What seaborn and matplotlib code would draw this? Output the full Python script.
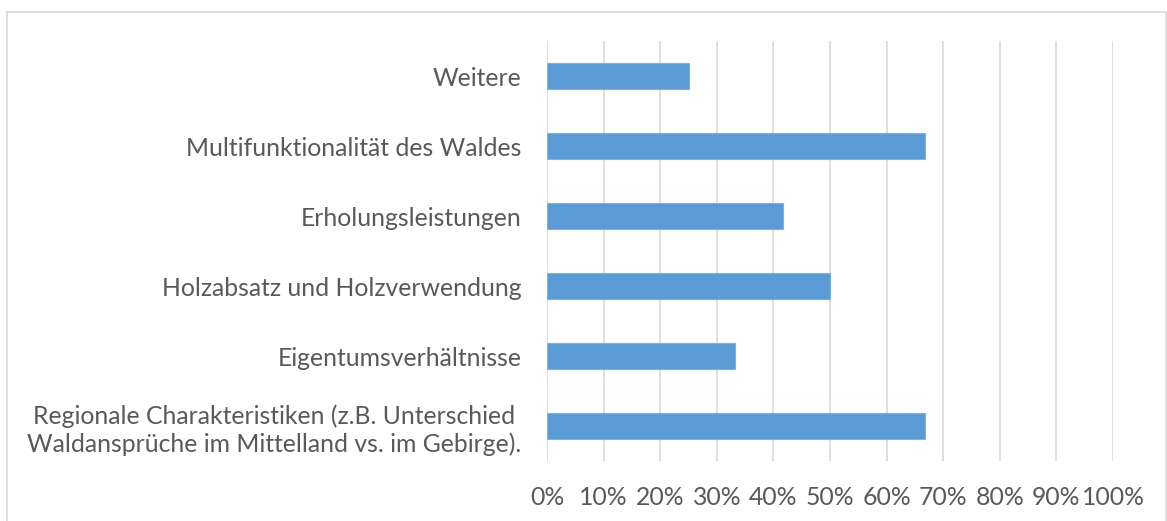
import matplotlib
matplotlib.use("Agg")
import matplotlib.pyplot as plt
import seaborn as sns
import pandas as pd
from matplotlib.patches import Rectangle
from matplotlib.ticker import FuncFormatter

categories = [
    "Weitere",
    "Multifunktionalität des Waldes",
    "Erholungsleistungen",
    "Holzabsatz und Holzverwendung",
    "Eigentumsverhältnisse",
    "Regionale Charakteristiken (z.B. Unterschied\nWaldansprüche im Mittelland vs. im Gebirge).",
]
values = [25.0, 66.7, 41.7, 50.0, 33.3, 66.7]
xticks = [0, 10, 20, 30, 40, 50, 60, 70, 80, 90, 100]

df = pd.DataFrame({"cat": categories, "val": values})

sns.set_theme(style="white")
plt.rcParams["font.family"] = ["Lato", "DejaVu Sans"]

fig = plt.figure(figsize=(11.67, 5.21), dpi=100)
W, H = 1167, 521
ax = fig.add_axes([547 / W, 1 - 461 / H, (1113 - 547) / W, (461 - 41) / H])

sns.barplot(data=df, x="val", y="cat", orient="h", color="#5B9BD5",
            saturation=1, width=0.36, ax=ax, edgecolor="#7FB1E0", linewidth=0.8,
            zorder=3)

ax.set_xlim(0, 100)
ax.set_xticks(xticks)
ax.xaxis.set_major_formatter(FuncFormatter(lambda v, p: f"{int(v)}%"))
ax.grid(axis="x", color="#D9D9D9", linewidth=1.2, zorder=0)
ax.set_axisbelow(True)
for s in ax.spines.values():
    s.set_visible(False)
ax.set_xlabel("")
ax.set_ylabel("")
ax.tick_params(axis="x", length=0, pad=18, labelsize=17.8, labelcolor="#595959")
ax.tick_params(axis="y", length=0, pad=18.5, labelsize=17.8, labelcolor="#595959")
for lbl in ax.get_yticklabels():
    lbl.set_multialignment("center")

# outer chart frame
fig.patches.append(Rectangle((7 / W, -0.05), (1166 - 7) / W, 1 - 12 / H + 0.05,
                             transform=fig.transFigure, fill=False,
                             edgecolor="#D9D9D9", linewidth=1.2))

fig.savefig("out.png", dpi=100)
